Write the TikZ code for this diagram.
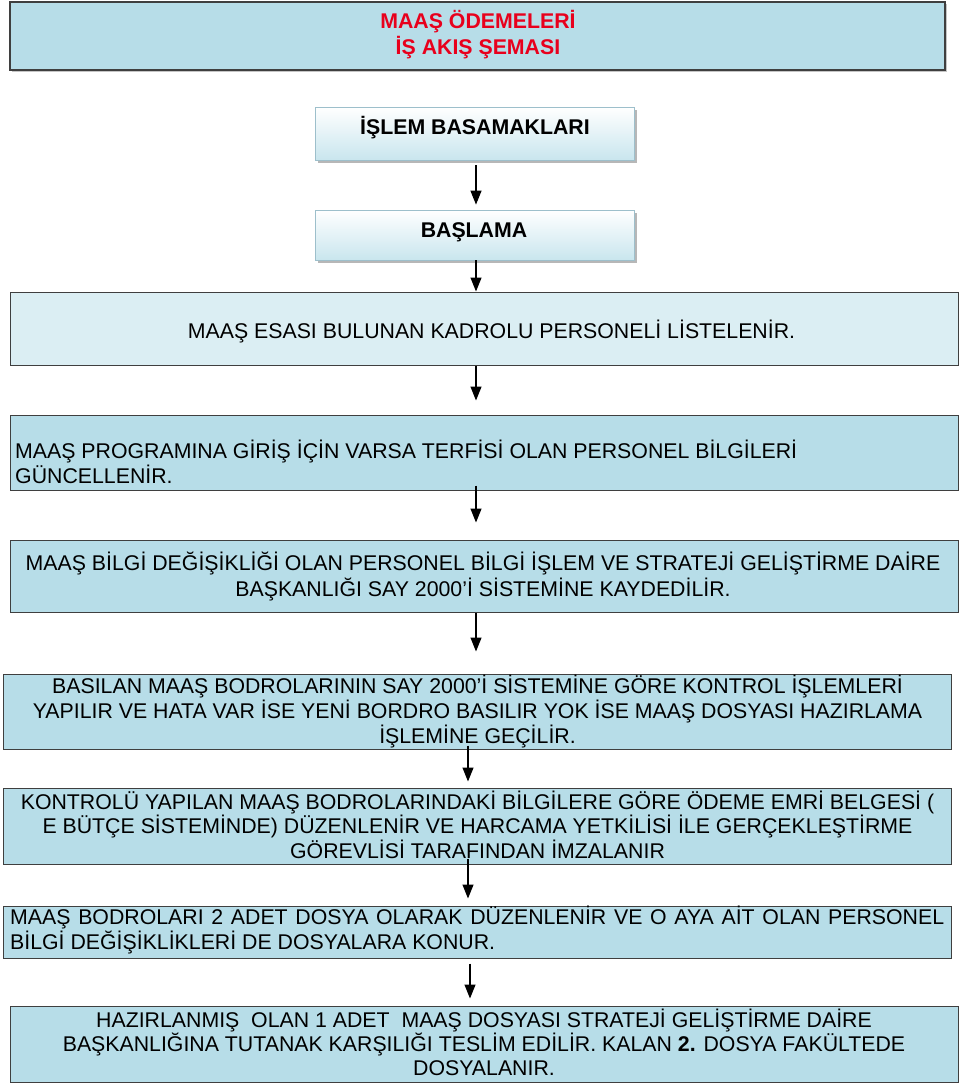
\documentclass[tikz,border=0pt]{standalone}
\usepackage{fontspec}
\setmainfont{Liberation Sans}
\usetikzlibrary{arrows.meta,shadows}
\definecolor{boxblue}{HTML}{B7DDE8}
\definecolor{paleblue}{HTML}{DBEEF3}
\definecolor{edgegray}{HTML}{3F3F3F}
\definecolor{softedge}{HTML}{9DBFCB}
\definecolor{titlered}{HTML}{E8001C}
\begin{document}
\begin{tikzpicture}[x=1pt,y=-1pt,
  flowbox/.style={draw=edgegray, line width=1pt, fill=boxblue, inner sep=0pt,
    minimum width=#1},
  headbox/.style={draw=softedge, line width=0.8pt, top color=white, bottom color=boxblue!75,
    inner sep=0pt, minimum width=319pt,
    drop shadow={shadow xshift=3pt, shadow yshift=-3pt, fill=black!35, opacity=0.8}},
  txt/.style={font=\fontsize{21.3}{25}\selectfont, align=#1, inner sep=0pt,
    execute at begin node={\rule{0pt}{20.2pt}},
    execute at end node={\rule[-4.5pt]{0pt}{0pt}}},
  txt/.default=center,
  arr/.style={draw=black, line width=1.2pt, -{Triangle[length=14pt,width=11pt]}}
]
\useasboundingbox (0,0) rectangle (960,1087);
\fill[white] (0,0) rectangle (960,1087);

% title
\node[flowbox=935pt, minimum height=68pt, line width=1.5pt,
  drop shadow={shadow xshift=2pt, shadow yshift=-2pt, fill=black!45}] (title) at (477.5,36) {};
\node[txt, text=titlered, font=\bfseries\fontsize{21.3}{26}\selectfont] (titletxt) at (478,35)
  {MAAŞ ÖDEMELERİ\\İŞ AKIŞ ŞEMASI};

% header boxes
\node[headbox, minimum height=53pt] (b1) at (474.5,133.5) {};
\node[txt, font=\bfseries\fontsize{21.3}{25}\selectfont] (t1) at (475,127) {İŞLEM BASAMAKLARI};
\node[headbox, minimum height=50pt] (b2) at (474.5,235) {};
\node[txt, font=\bfseries\fontsize{21.3}{25}\selectfont] (t2) at (474,230) {BAŞLAMA};

% step boxes
\node[flowbox=948pt, minimum height=73pt, fill=paleblue] (b3) at (484,328.5) {};
\node[txt] (t3) at (491.5,331) {MAAŞ ESASI BULUNAN KADROLU PERSONELİ LİSTELENİR.};

\node[flowbox=948pt, minimum height=75pt] (b4) at (484,452.5) {};
\node[txt=left, anchor=west] (t4) at (15,464.5)
  {MAAŞ PROGRAMINA GİRİŞ İÇİN VARSA TERFİSİ OLAN PERSONEL BİLGİLERİ\\GÜNCELLENİR.};

\node[flowbox=948pt, minimum height=72pt] (b5) at (484,576) {};
\node[txt, font=\fontsize{21.3}{26.5}\selectfont] (t5) at (483,576.5)
  {MAAŞ BİLGİ DEĞİŞİKLİĞİ OLAN PERSONEL BİLGİ İŞLEM VE STRATEJİ GELİŞTİRME DAİRE\\BAŞKANLIĞI SAY 2000’İ SİSTEMİNE KAYDEDİLİR.};

\node[flowbox=948pt, minimum height=75pt] (b6) at (477,711.5) {};
\node[txt] (t6) at (477.5,712)
  {BASILAN MAAŞ BODROLARININ SAY 2000’İ SİSTEMİNE GÖRE KONTROL İŞLEMLERİ\\YAPILIR VE HATA VAR İSE YENİ BORDRO BASILIR YOK İSE MAAŞ DOSYASI HAZIRLAMA\\İŞLEMİNE GEÇİLİR.};

\node[flowbox=948pt, minimum height=76pt] (b7) at (477,826) {};
\node[txt, font=\fontsize{21.3}{24.5}\selectfont] (t7) at (477.5,826.7)
  {KONTROLÜ YAPILAN MAAŞ BODROLARINDAKİ BİLGİLERE GÖRE ÖDEME EMRİ BELGESİ (\\E BÜTÇE SİSTEMİNDE) DÜZENLENİR VE HARCAMA YETKİLİSİ İLE GERÇEKLEŞTİRME\\GÖREVLİSİ TARAFINDAN İMZALANIR};

\node[flowbox=948pt, minimum height=52pt] (b8) at (477,932) {};
\node[txt=left, anchor=west] (t8) at (10,930.5)
  {\makebox[934pt][s]{MAAŞ BODROLARI 2 ADET DOSYA OLARAK DÜZENLENİR VE O AYA AİT OLAN PERSONEL}\\BİLGİ DEĞİŞİKLİKLERİ DE DOSYALARA KONUR.};

\node[flowbox=948pt, minimum height=76pt] (b9) at (484,1044) {};
\node[txt, font=\fontsize{21.3}{24}\selectfont] (t9) at (484,1044.3)
  {HAZIRLANMIŞ\ \ OLAN 1 ADET\ \ MAAŞ DOSYASI STRATEJİ GELİŞTİRME DAİRE\\BAŞKANLIĞINA TUTANAK KARŞILIĞI TESLİM EDİLİR. KALAN \textbf{2.} DOSYA FAKÜLTEDE\\DOSYALANIR.};

% connectors
\draw[arr, shorten <=5pt, shorten >=5pt] ([xshift=1.5pt]b1.south) -- ([xshift=1.5pt]b2.north);
\draw[arr, shorten >=0pt] ([xshift=1.5pt]b2.south) -- ([xshift=-8pt]b3.north);
\draw[arr, shorten >=14pt] ([xshift=-8pt]b3.south) -- ([xshift=-8pt]b4.north);
\draw[arr, shorten <=-5pt, shorten >=17pt] ([xshift=-8pt]b4.south) -- ([xshift=-8pt]b5.north);
\draw[arr, shorten >=22pt] ([xshift=-8pt]b5.south) -- ([xshift=-1pt]b6.north);
\draw[arr, shorten <=-4pt, shorten >=6pt] ([xshift=-9pt]b6.south) -- ([xshift=-9pt]b7.north);
\draw[arr, shorten <=-6pt, shorten >=7pt] ([xshift=-9pt]b7.south) -- ([xshift=-9pt]b8.north);
\draw[arr, shorten <=5pt, shorten >=7pt] ([xshift=-7pt]b8.south) -- ([xshift=-14pt]b9.north);
\end{tikzpicture}
\end{document}
